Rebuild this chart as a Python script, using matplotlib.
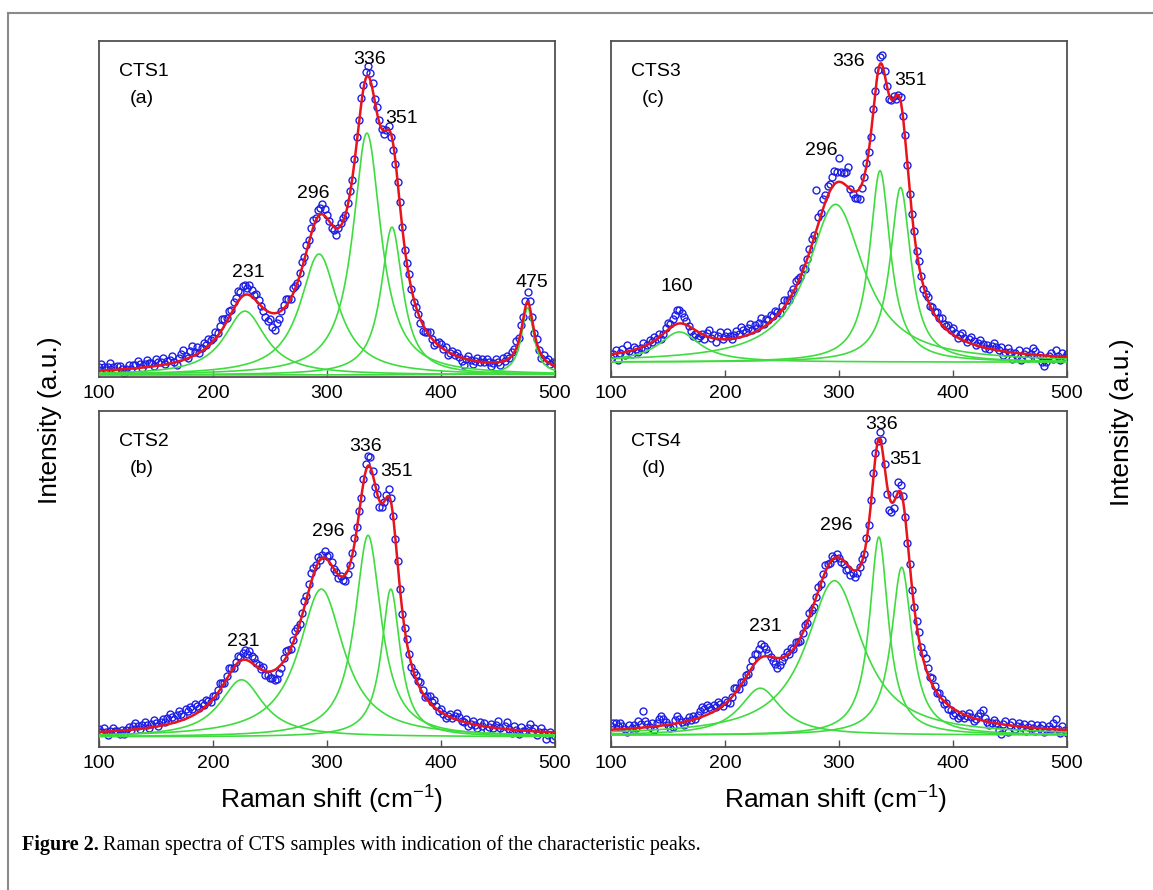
import numpy as np
import matplotlib
matplotlib.use('Agg')
import matplotlib.pyplot as plt
from matplotlib.lines import Line2D

plt.rcParams['font.family'] = ['Liberation Sans', 'DejaVu Sans']
plt.rcParams['mathtext.fontset'] = 'custom'
plt.rcParams['mathtext.rm'] = 'Liberation Sans'
plt.rcParams['mathtext.default'] = 'regular'

# Raman shift grid of the measured spectra (cm-1)
shift = np.arange(100, 501, 2)

# Fitted Lorentzian components: centre, height, half width
# (heights in fractions of the panel height)
cts1_centre = [228, 293, 335, 357, 476]
cts1_height = [0.19, 0.36, 0.72, 0.44, 0.20]
cts1_hwhm = [22, 20, 15, 11.5, 6.5]
cts1_base = 0.006

cts2_centre = [225, 295, 336, 356]
cts2_height = [0.17, 0.44, 0.60, 0.44]
cts2_hwhm = [23, 24, 14, 10]
cts2_base = 0.03

cts3_centre = [160, 297, 336, 354]
cts3_height = [0.09, 0.47, 0.57, 0.52]
cts3_hwhm = [22, 30, 11, 11]
cts3_base = 0.044

cts4_centre = [231, 296, 335, 355]
cts4_height = [0.14, 0.46, 0.59, 0.50]
cts4_hwhm = [22, 30, 10, 11]
cts4_base = 0.035

# Deviation of the measured points from the fit (units of 0.01), one per shift value
cts1_resid = [1, 2, 1, 0, 1, 2, 1, 0, 1, 1,
              0, -1, 0, 1, 0, 1, 1, 2, 1, 0,
              1, 2, 1, 1, 0, 2, 1, 1, 2, 0,
              1, 1, 2, 0, -1, 1, 2, 3, 1, 0,
              2, 3, 1, 2, 0, 1, 2, 1, 2, 1,
              1, 2, 1, 2, 3, 2, 1, 2, 1, 2,
              2, 3, 2, 3, 3, 2, 3, 2, 1, 2,
              1, 0, -1, -2, -3, -2, -4, -5, -3, -2,
              0, 1, 2, 1, 0, 2, 1, 0, 1, 2,
              1, 2, 1, 2, 2, 1, 2, 2, 3, 2,
              1, 0, -1, -1, -2, 0, 1, 1, 0, 1,
              1, 0, 1, 2, 1, 2, 1, 2, 3, 2,
              2, 1, 2, 1, 0, -1, 0, 1, -1, -2,
              -1, 0, 1, 0, -1, 0, 1, 0, -1, 0,
              0, -1, -2, -1, 0, 1, 0, -1, 0, 1,
              1, 0, 1, -1, 0, 1, 0, 1, 0, -1,
              -2, 0, 1, 0, -1, 0, 1, 0, 1, 0,
              1, 0, -1, 0, 1, 0, -1, 1, 0, 1,
              0, 1, 1, 2, 1, 2, 1, 2, 3, 2,
              1, 0, 1, 0, -1, 1, 0, 1, 0, 1,
              1]
cts2_resid = [1, 0, 1, 0, -1, 0, 1, 0, 0, -1,
              0, -1, 0, 1, 0, 1, 2, 1, 0, 1,
              2, 1, 0, 1, 2, 1, 0, 1, 2, 1,
              2, 3, 2, 1, 2, 3, 2, 1, 3, 2,
              3, 2, 3, 2, 1, 2, 1, 2, 1, 0,
              1, 0, 1, 2, 1, 0, 1, 2, 1, 0,
              1, 2, 1, 2, 3, 2, 3, 2, 2, 1,
              1, 0, 1, -1, -1, -2, -2, -3, -3, -2,
              -1, 1, 2, 1, 0, 1, 2, 1, 0, 1,
              2, 1, 2, 3, 2, 1, 2, 0, 1, 2,
              1, 2, 1, 0, 0, -1, 0, -1, -2, -1,
              0, 1, 2, 1, 1, 0, 1, 2, 3, 3,
              1, -1, 0, -2, -1, 0, 1, 2, 1, 0,
              0, 1, 0, -1, 0, 1, 0, -1, 0, 1,
              1, 2, 1, 0, 1, 2, 1, 2, 1, 0,
              1, 0, -1, 0, 1, 0, 1, 2, 1, 0,
              0, 1, -1, 0, 1, 0, -1, 1, 0, 1,
              -1, 0, 1, 0, 1, 2, 0, -1, 1, 2,
              0, -1, 1, 0, -1, 1, 0, 0, 1, 2,
              0, 1, -1, 0, 1, 0, -2, -1, 0, -2,
              -1]
cts3_resid = [-1, 0, 1, -2, 0, 1, -1, 2, 0, -1,
              1, 0, -1, 0, 1, -1, 0, 1, 0, 1,
              0, 1, -1, 0, 1, 2, 1, 2, 3, 4,
              4, 3, 2, 1, 0, -1, -2, -1, -2, -1,
              0, -1, 1, 2, 0, 1, -1, 1, 2, 0,
              1, 2, 1, 0, 1, 2, 1, 3, 2, 1,
              2, 3, 1, 2, 1, 2, 3, 1, 2, 1,
              2, 1, 2, 1, 0, 1, 2, 1, 0, 1,
              1, 2, 1, 0, 1, -1, 0, 1, 2, 1,
              12, 2, 1, 3, 2, 3, 2, 3, 4, 3,
              7, 3, 3, 4, 6, 0, -1, -2, -2, -3,
              -1, 0, 1, 0, -1, 1, 0, 1, 2, 3,
              1, 0, -1, 0, 1, -1, 0, 1, 0, 1,
              0, -1, 0, 1, 0, 1, 0, -1, 0, 1,
              0, 1, 1, 2, 1, 2, 1, 1, 2, 1,
              2, 1, 0, 1, 2, 1, 0, 1, 2, 1,
              0, 1, 2, 1, 0, 1, 0, 1, 2, 1,
              0, 1, -1, 0, 1, 0, -2, 0, -1, 1,
              -2, 0, 1, -1, 0, 2, 1, -1, 0, -2,
              -3, -2, 0, 1, -1, 2, 0, -1, 1, 0,
              1]
cts4_resid = [1, 2, 2, 1, 2, 1, 0, -1, 1, 0,
              1, 0, 2, 1, 5, 2, 1, 0, 1, -1,
              1, 2, 3, 2, 1, 0, -1, -1, 1, 2,
              1, 0, -1, 0, 1, 0, 1, 0, 1, 2,
              3, 2, 3, 2, 1, 2, 1, 2, 1, 0,
              1, 0, -1, 0, 2, 1, 0, 1, 0, 1,
              0, 1, 2, 3, 2, 3, 4, 3, 2, 1,
              0, -1, -2, -3, -2, -1, 0, 1, 0, 1,
              0, 1, 0, -1, 0, 1, 0, 1, 0, -1,
              0, 1, 0, 1, 2, 1, 0, 1, 0, 1,
              0, -1, -1, -2, -1, -2, -1, -2, -1, 0,
              1, 0, 1, 0, 1, 2, 1, 0, 2, 3,
              1, -3, -4, -3, -2, 1, 3, 2, 1, 0,
              -1, 0, -1, 0, 1, 2, 1, 2, 3, 2,
              1, 2, 1, 0, 1, 0, -1, 0, -1, -1,
              -2, -1, -2, -1, 0, -1, 0, 1, 0, -1,
              0, 1, 2, 3, 1, 0, -1, 0, 1, 0,
              -2, -3, 0, 1, -2, 0, 1, -1, 0, 1,
              0, 1, -1, 0, 1, 0, -1, 1, 0, 1,
              -1, 0, 1, 0, 2, 3, 0, -1, 1, 0,
              -1]

# Peak labels: (text, shift, height)
cts1_labels = [('231', 231, 0.31), ('296', 288, 0.545), ('336', 337, 0.945),
               ('351', 365, 0.77), ('475', 480, 0.28)]
cts2_labels = [('231', 227, 0.315), ('296', 301, 0.64), ('336', 334, 0.895),
               ('351', 361, 0.82)]
cts3_labels = [('160', 158, 0.268), ('296', 284, 0.675), ('336', 308, 0.94),
               ('351', 363, 0.883)]
cts4_labels = [('231', 235, 0.36), ('296', 298, 0.658), ('336', 337, 0.96),
               ('351', 358, 0.856)]

panels = [
    ('CTS1', '(a)', cts1_centre, cts1_height, cts1_hwhm, cts1_base, cts1_resid, cts1_labels,
     [99 / 1153, 1 - 377 / 890, 456 / 1153, 336 / 890]),
    ('CTS2', '(b)', cts2_centre, cts2_height, cts2_hwhm, cts2_base, cts2_resid, cts2_labels,
     [99 / 1153, 1 - 747 / 890, 456 / 1153, 336 / 890]),
    ('CTS3', '(c)', cts3_centre, cts3_height, cts3_hwhm, cts3_base, cts3_resid, cts3_labels,
     [611 / 1153, 1 - 377 / 890, 456 / 1153, 336 / 890]),
    ('CTS4', '(d)', cts4_centre, cts4_height, cts4_hwhm, cts4_base, cts4_resid, cts4_labels,
     [611 / 1153, 1 - 747 / 890, 456 / 1153, 336 / 890]),
]


def lorentz(x, c, h, g):
    return h / (1 + ((x - c) / g) ** 2)


fig = plt.figure(figsize=(11.53, 8.90), dpi=100)
xf = np.linspace(100, 500, 801)

for name, tag, centre, height, hwhm, base, resid, labels, pos in panels:
    ax = fig.add_axes(pos)

    fit_fine = base + sum(lorentz(xf, c, h, g) for c, h, g in zip(centre, height, hwhm))
    fit_pts = base + sum(lorentz(shift, c, h, g) for c, h, g in zip(centre, height, hwhm))
    measured = fit_pts + 0.01 * np.array(resid)

    ax.plot(shift, measured, 'o', mfc='none', mec='#1e1ee6', ms=5, mew=1.0, zorder=2)
    for c, h, g in zip(centre, height, hwhm):
        ax.plot(xf, base + lorentz(xf, c, h, g), color='#3fdc3f', lw=1.2, zorder=3)
    ax.plot(xf, fit_fine, color='#e8141c', lw=1.8, zorder=4)

    for txt, x, y in labels:
        ax.text(x, y, txt, ha='center', va='center', fontsize=14)
    ax.text(0.043, 0.91, name, transform=ax.transAxes, ha='left', va='center', fontsize=14)
    ax.text(0.068, 0.83, tag, transform=ax.transAxes, ha='left', va='center', fontsize=14)

    ax.set_xlim(100, 500)
    ax.set_ylim(0, 1)
    ax.set_xticks([100, 200, 300, 400, 500])
    ax.set_yticks([])
    ax.tick_params(axis='x', direction='in', length=5, width=1, labelsize=14, pad=6,
                   colors='#505050', labelcolor='black')
    for sp in ax.spines.values():
        sp.set_color('#505050')
        sp.set_linewidth(1.3)

# Axis titles
fig.text(50 / 1153, 1 - 420 / 890, 'Intensity (a.u.)', rotation=90, ha='center', va='center', fontsize=19)
fig.text(1122 / 1153, 1 - 422 / 890, 'Intensity (a.u.)', rotation=90, ha='center', va='center', fontsize=19)
fig.text(332 / 1153, 1 - 800 / 890, 'Raman shift (cm$^{-1}$)', ha='center', va='center', fontsize=19)
fig.text(836 / 1153, 1 - 800 / 890, 'Raman shift (cm$^{-1}$)', ha='center', va='center', fontsize=19)

# Caption
cap1 = fig.text(22 / 1153, 1 - 845 / 890, 'Figure 2.', ha='left', va='center', fontsize=14.5,
                family='Liberation Serif', weight='bold')
fig.canvas.draw()
bb = cap1.get_window_extent()
fig.text((bb.x1 + 4) / 1153, 1 - 845 / 890,
         'Raman spectra of CTS samples with indication of the characteristic peaks.',
         ha='left', va='center', fontsize=14.5, family='Liberation Serif')

# Page frame (left and top edges)
fig.add_artist(Line2D([8 / 1153, 8 / 1153], [0, 1 - 13 / 890], color='#8a8a8a', lw=1.5))
fig.add_artist(Line2D([8 / 1153, 1], [1 - 13 / 890, 1 - 13 / 890], color='#8a8a8a', lw=1.5))

fig.savefig('out.png', dpi=100)
